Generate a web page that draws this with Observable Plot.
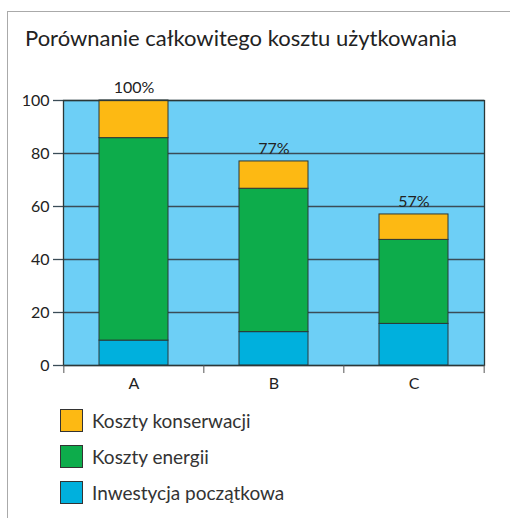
<!DOCTYPE html>
<html>
<head>
<meta charset="utf-8">
<script src="https://cdn.jsdelivr.net/npm/d3@7"></script>
<script src="https://cdn.jsdelivr.net/npm/@observablehq/plot@0.6"></script>
<style>
  html, body { margin: 0; padding: 0; background: #fff; }
  #wrap { position: relative; width: 510px; height: 518px; overflow: hidden; font-family: Lato, "DejaVu Sans", sans-serif; color: #333; }
  #border { position: absolute; left: 7px; top: 11px; width: 520px; height: 520px; border-left: 1.5px solid #aaa; border-top: 1.5px solid #aaa; }
  #title { position: absolute; left: 25px; top: 27px; font-size: 22px; line-height: 22px; color: #222; white-space: nowrap; }
  #chart { position: absolute; left: 0; top: 0; }
  #legend { position: absolute; left: 60px; top: 409px; }
  .item { display: flex; align-items: center; height: 23px; margin-bottom: 13px; font-size: 19px; color: #333; }
  .sw { width: 21px; height: 21px; border: 1px solid #333; margin-right: 9px; }
</style>
</head>
<body>
<div id="wrap">
  <div id="border"></div>
  <div id="title">Porównanie całkowitego kosztu użytkowania</div>
  <div id="chart"></div>
  <div id="legend"></div>
</div>
<script>
const categories = ["A", "B", "C"];
const seriesNames = ["Inwestycja początkowa", "Koszty energii", "Koszty konserwacji"];
const seriesColors = ["#00b0dd", "#0dac4b", "#fdb913"];
const investment = [9.4, 12.6, 15.7];
const energy = [76.4, 54.1, 31.7];
const maintenance = [14.2, 10.3, 9.6];
const totalLabels = [100, 77, 57];
const yTicks = [0, 20, 40, 60, 80, 100];

const seriesValues = [investment, energy, maintenance];
const rows = [];
seriesNames.forEach((s, si) => categories.forEach((c, ci) => rows.push({cat: c, series: s, value: seriesValues[si][ci]})));
const totals = categories.map((c, ci) => ({cat: c, total: investment[ci] + energy[ci] + maintenance[ci], label: totalLabels[ci] + "%"}));

const W = 510, H = 400, ML = 63, MR = 26, MT = 100, MB = 35;
const step = (W - ML - MR) / categories.length;
const gridColor = "#3b4c57";

const chart = Plot.plot({
  width: W, height: H,
  marginLeft: ML, marginRight: MR, marginTop: MT, marginBottom: MB,
  style: {fontFamily: "Lato, 'DejaVu Sans', sans-serif", fontSize: "16px", color: "#222", background: "transparent"},
  x: {domain: categories, paddingInner: 0.51, paddingOuter: 0.255, axis: null},
  y: {domain: [0, 100], axis: null},
  color: {domain: seriesNames, range: seriesColors},
  marks: [
    Plot.frame({fill: "#6dcff6", stroke: null}),
    Plot.gridY(yTicks, {stroke: gridColor, strokeOpacity: 1, strokeWidth: 1.3}),
    Plot.axisY(yTicks, {tickSize: 10, tickPadding: 4, stroke: gridColor, strokeWidth: 1.3, fontSize: 16, label: null}),
    Plot.barY(rows, {x: "cat", y: "value", fill: "series", stroke: "#2b3838", strokeWidth: 1, order: seriesNames}),
    Plot.frame({stroke: "#2b3838", strokeWidth: 1.3}),
    Plot.axisX(categories, {tickSize: 0, tickPadding: 12, fontSize: 16, label: null}),
    Plot.axisX(categories, {tickSize: 8, text: null, dx: -step / 2, stroke: "#555", label: null}),
    Plot.axisX(categories.slice(-1), {tickSize: 8, text: null, dx: step / 2, stroke: "#555", label: null}),
    Plot.text(totals, {x: "cat", y: "total", text: "label", dy: -13, fontSize: 16, fill: "#222"})
  ]
});
document.getElementById("chart").appendChild(chart);

const legend = document.getElementById("legend");
[2, 1, 0].forEach(i => {
  const it = document.createElement("div");
  it.className = "item";
  it.innerHTML = `<div class="sw" style="background:${seriesColors[i]}"></div><span>${seriesNames[i]}</span>`;
  legend.appendChild(it);
});
</script>
</body>
</html>
